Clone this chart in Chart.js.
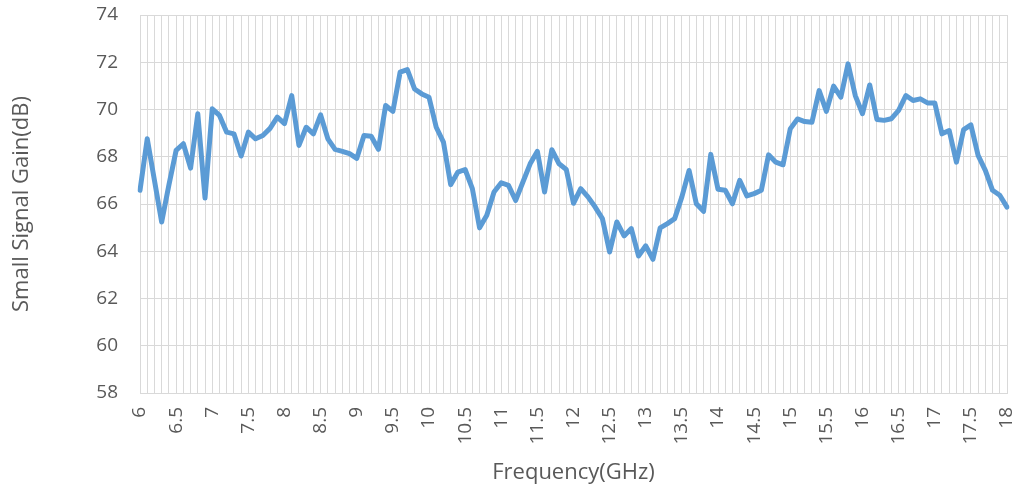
<!DOCTYPE html>
<html>
<head>
<meta charset="utf-8">
<script src="https://cdn.jsdelivr.net/npm/chart.js@4.4.1/dist/chart.umd.min.js"></script>
<style>
  html, body { margin: 0; padding: 0; background: #ffffff; }
  #wrap { width: 1021px; height: 494px; position: relative; }
</style>
</head>
<body>
<div id="wrap"><canvas id="c" width="1021" height="494"></canvas></div>
<script>
const frequencies = [
  '6','6.1','6.2','6.3','6.4','6.5','6.6','6.7','6.8','6.9',
  '7','7.1','7.2','7.3','7.4','7.5','7.6','7.7','7.8','7.9',
  '8','8.1','8.2','8.3','8.4','8.5','8.6','8.7','8.8','8.9',
  '9','9.1','9.2','9.3','9.4','9.5','9.6','9.7','9.8','9.9',
  '10','10.1','10.2','10.3','10.4','10.5','10.6','10.7','10.8','10.9',
  '11','11.1','11.2','11.3','11.4','11.5','11.6','11.7','11.8','11.9',
  '12','12.1','12.2','12.3','12.4','12.5','12.6','12.7','12.8','12.9',
  '13','13.1','13.2','13.3','13.4','13.5','13.6','13.7','13.8','13.9',
  '14','14.1','14.2','14.3','14.4','14.5','14.6','14.7','14.8','14.9',
  '15','15.1','15.2','15.3','15.4','15.5','15.6','15.7','15.8','15.9',
  '16','16.1','16.2','16.3','16.4','16.5','16.6','16.7','16.8','16.9',
  '17','17.1','17.2','17.3','17.4','17.5','17.6','17.7','17.8','17.9',
  '18'
];

const gainDb = [
  66.58, 68.76, 67.00, 65.24, 66.80, 68.27, 68.55, 67.52, 69.82, 66.25,
  70.03, 69.75, 69.04, 68.97, 68.03, 69.04, 68.76, 68.90, 69.20, 69.68,
  69.40, 70.59, 68.48, 69.25, 68.97, 69.77, 68.76, 68.31, 68.23, 68.13,
  67.93, 68.90, 68.87, 68.31, 70.17, 69.92, 71.58, 71.69, 70.87, 70.66,
  70.52, 69.25, 68.62, 66.82, 67.35, 67.46, 66.65, 64.99, 65.52, 66.51,
  66.90, 66.79, 66.15, 66.93, 67.70, 68.23, 66.51, 68.30, 67.70, 67.46,
  66.03, 66.65, 66.30, 65.87, 65.38, 63.97, 65.24, 64.65, 64.96, 63.80,
  64.23, 63.66, 64.99, 65.17, 65.38, 66.30, 67.42, 66.01, 65.69, 68.10,
  66.62, 66.58, 66.01, 67.00, 66.34, 66.44, 66.58, 68.08, 67.77, 67.66,
  69.18, 69.60, 69.49, 69.46, 70.80, 69.92, 70.99, 70.52, 71.93, 70.59,
  69.82, 71.04, 69.58, 69.54, 69.61, 69.96, 70.59, 70.38, 70.45, 70.28,
  70.28, 68.97, 69.11, 67.77, 69.15, 69.35, 68.06, 67.42, 66.58, 66.37,
  65.87
];

const xTickLabels = ['6','6.5','7','7.5','8','8.5','9','9.5','10','10.5','11','11.5','12',
  '12.5','13','13.5','14','14.5','15','15.5','16','16.5','17','17.5','18'];

const yMin = 58, yMax = 74, yStep = 2;

const textColor = '#595959';
const gridColor = '#D9D9D9';
const fontFamily = '"Open Sans", "Noto Sans", sans-serif';

function zeroPadding(scale) {
  scale.paddingTop = 0;
  scale.paddingBottom = 0;
  scale.paddingLeft = 0;
  scale.paddingRight = 0;
}

new Chart(document.getElementById('c'), {
  type: 'line',
  data: {
    labels: frequencies,
    datasets: [{
      label: 'Small Signal Gain(dB)',
      data: gainDb,
      borderColor: '#5B9BD5',
      backgroundColor: '#5B9BD5',
      borderWidth: 5,
      pointRadius: 0,
      tension: 0,
      borderJoinStyle: 'round',
      borderCapStyle: 'round',
      fill: false
    }]
  },
  options: {
    responsive: false,
    animation: false,
    layout: { padding: { top: 15, right: 14, bottom: 0, left: 0 } },
    plugins: { legend: { display: false }, tooltip: { enabled: false } },
    scales: {
      x: {
        type: 'category',
        offset: false,
        grid: { color: gridColor, lineWidth: 1, drawTicks: false, offset: false },
        border: { color: gridColor, width: 1 },
        ticks: {
          autoSkip: false,
          minRotation: 90,
          maxRotation: 90,
          padding: 14,
          color: textColor,
          font: { family: fontFamily, size: 19 },
          callback: function (value, index) {
            const lbl = frequencies[index];
            return xTickLabels.includes(lbl) ? lbl : '';
          }
        },
        title: {
          display: true,
          text: 'Frequency(GHz)',
          color: textColor,
          font: { family: fontFamily, size: 22 },
          padding: { top: 0, bottom: 8 }
        },
        afterFit: function (scale) { scale.height = 101; zeroPadding(scale); }
      },
      y: {
        min: yMin,
        max: yMax,
        grid: { color: gridColor, lineWidth: 1, drawTicks: false },
        border: { display: false },
        ticks: {
          stepSize: yStep,
          padding: 22,
          color: textColor,
          font: { family: fontFamily, size: 19 }
        },
        title: {
          display: true,
          text: 'Small Signal Gain(dB)',
          color: textColor,
          font: { family: fontFamily, size: 22 },
          padding: { top: 9, bottom: 0 }
        },
        afterFit: function (scale) { scale.width = 140; zeroPadding(scale); }
      }
    }
  }
});
</script>
</body>
</html>
